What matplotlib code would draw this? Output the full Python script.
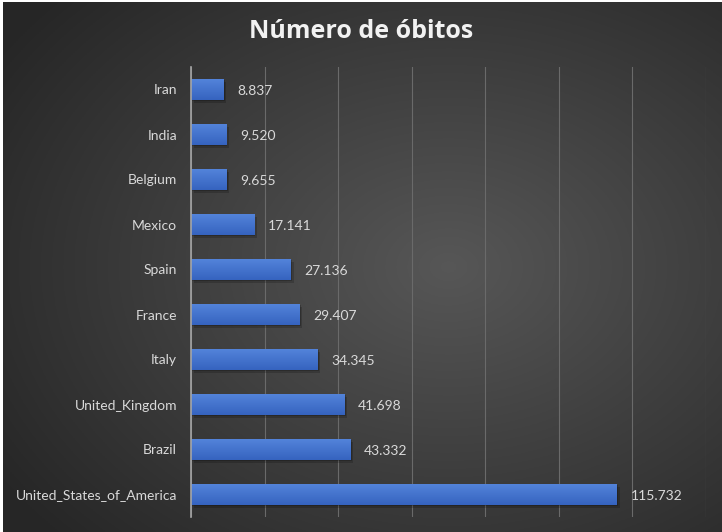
import numpy as np
import matplotlib.pyplot as plt
import matplotlib.patheffects as pe

countries = ['United_States_of_America', 'Brazil', 'United_Kingdom', 'Italy', 'France',
             'Spain', 'Mexico', 'Belgium', 'India', 'Iran']
deaths = [115732, 43332, 41698, 34345, 29407, 27136, 17141, 9655, 9520, 8837]
x_max = 140000
x_step = 20000

plt.rcParams['font.family'] = ['Lato', 'DejaVu Sans']

fig = plt.figure(figsize=(7.22, 5.32), dpi=100)
fig.patch.set_facecolor('white')

# radial gradient background (chart area)
bg = fig.add_axes([3 / 722, 0, 1 - 3 / 722, 1 - 2 / 532])
yy, xx = np.mgrid[0:1:300j, 0:1:400j]
r = np.sqrt(((xx - 0.62) / 0.75) ** 2 + ((yy - 0.5) / 0.75) ** 2)
shade = np.clip(0.34 - 0.19 * r, 0.15, 0.34)
bg.imshow(np.dstack([shade] * 3), extent=[0, 1, 0, 1], aspect='auto')
bg.axis('off')

ax = fig.add_axes([191 / 722, 1 - 517 / 532, 515 / 722, 450 / 532])
ax.patch.set_alpha(0)

y = np.arange(len(countries))
bars = ax.barh(y, deaths, height=0.47, color='#4472c4', zorder=3,
               path_effects=[pe.SimplePatchShadow(offset=(2, -2), shadow_rgbFace='black', alpha=0.18),
                             pe.SimplePatchShadow(offset=(1, -1), shadow_rgbFace='black', alpha=0.2),
                             pe.Normal()])

grad = np.linspace(0, 1, 50).reshape(-1, 1)
top_c = np.array([0.33, 0.52, 0.86])
bot_c = np.array([0.21, 0.39, 0.75])
grad_img = (grad * bot_c + (1 - grad) * top_c).reshape(50, 1, 3)
for b in bars:
    im = ax.imshow(grad_img, extent=[b.get_x(), b.get_x() + b.get_width(),
                                     b.get_y(), b.get_y() + b.get_height()],
                   aspect='auto', zorder=4)
    im.set_clip_path(b)

for yi, v in zip(y, deaths):
    ax.annotate(f'{v:,}'.replace(',', '.'), (v, yi), xytext=(10, -1), textcoords='offset points',
                va='center', ha='left', fontsize=10, color='#d9d9d9', zorder=5)

ax.set_xlim(0, x_max)
ax.set_ylim(-0.5, len(countries) - 0.5)
ax.set_xticks(np.arange(0, x_max + 1, x_step))
ax.set_xticklabels([])
ax.tick_params(axis='x', length=0)
ax.tick_params(axis='y', length=0, pad=10, labelsize=10, labelcolor='#d9d9d9')
ax.set_yticks(y)
ax.set_yticklabels(countries)
ax.grid(axis='x', color='#6a6a6a', linewidth=0.8, zorder=0)
for s in ['top', 'right', 'bottom']:
    ax.spines[s].set_visible(False)
ax.spines['left'].set_color('#a6a6a6')
ax.spines['left'].set_linewidth(1.2)
ax.spines['left'].set_zorder(6)

fig.text(0.5, 1 - 32 / 532, 'Número de óbitos', ha='center', va='center',
         fontsize=18, fontweight='bold', color='#f2f2f2', family=['Open Sans', 'DejaVu Sans'])

fig.savefig('out.png', dpi=100)
